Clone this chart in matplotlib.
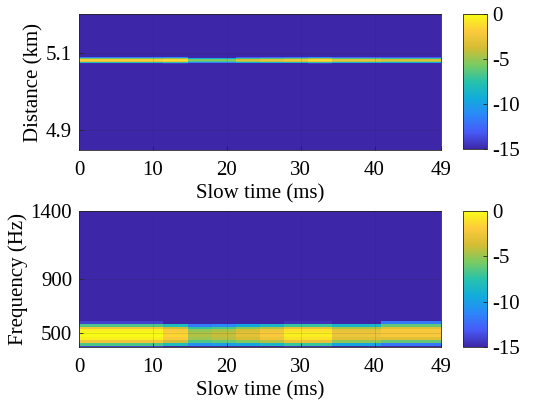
import numpy as np
import matplotlib
matplotlib.use("Agg")
import matplotlib.pyplot as plt
from matplotlib.colors import LinearSegmentedColormap

plt.rcParams['font.family'] = ['Liberation Serif', 'DejaVu Serif']
plt.rcParams['font.size'] = 15
plt.rcParams['axes.unicode_minus'] = False

# slow-time columns (ms), 16 pulse groups across 0..49
slow_time = np.linspace(0, 49, 16)

# range map: per-column peak level (dB) and target range (km)
range_peak_db = [-1.5, -1.5, -1.5, -1.5, -1.0, -5.0, -5.0, -3.0,
                 -2.5, -2.0, -1.0, -2.5, -2.5, -3.0, -3.0, -3.0]
range_center_km = [5.0805] * 16
range_halfwidth_km = 0.0085
distance_km = np.arange(4.84, 5.21, 0.0025)

# spectrum map: per-column peak level (dB) and centre frequency (Hz)
freq_peak_db = [0.0, 0.0, 0.0, 0.0, -1.5, -4.5, -4.0, -3.0,
                -2.0, -0.5, -0.5, -2.5, -2.5, -2.0, -2.0, -2.0]
freq_center_hz = [490, 490, 490, 490, 490, 488, 488, 490,
                  490, 490, 490, 492, 492, 500, 500, 500]
freq_halfwidth_hz = 92
freq_hz = np.arange(380, 1420, 20)

parula = LinearSegmentedColormap.from_list("parula", [
    (0.000, (0.2422, 0.1504, 0.6603)),
    (0.125, (0.2788, 0.3556, 0.9700)),
    (0.250, (0.1707, 0.5287, 0.9760)),
    (0.375, (0.0641, 0.6731, 0.8606)),
    (0.500, (0.1540, 0.7600, 0.6700)),
    (0.625, (0.4780, 0.7950, 0.3810)),
    (0.750, (0.8290, 0.7390, 0.2020)),
    (0.875, (0.9910, 0.7950, 0.2370)),
    (1.000, (0.9769, 0.9839, 0.0805)),
])


def db_map(axis_vals, centers, peaks, halfwidth, power):
    cols = []
    for c, p in zip(centers, peaks):
        col = p - 15 * np.abs((axis_vals - c) / halfwidth) ** power
        cols.append(np.clip(col, -15, 0))
    return np.array(cols).T


range_map = db_map(distance_km, range_center_km, range_peak_db, range_halfwidth_km, 2)
freq_map = db_map(freq_hz, freq_center_hz, freq_peak_db, freq_halfwidth_hz, 3)

fig = plt.figure(figsize=(5.47, 4.0), dpi=100)
ax1 = fig.add_axes([0.1444, 0.625, 0.6618, 0.34])
ax2 = fig.add_axes([0.1444, 0.1325, 0.6618, 0.34])
cax1 = fig.add_axes([0.8464, 0.6275, 0.0439, 0.3375])
cax2 = fig.add_axes([0.8464, 0.1325, 0.0439, 0.34])

edge = (0.15, 0.15, 0.15)

for ax, y, z, ylim, yticks, ylab, cax in [
        (ax1, distance_km, range_map, (4.848, 5.2), [4.9, 5.1], "Distance (km)", cax1),
        (ax2, freq_hz, freq_map, (400, 1400), [500, 900, 1400], "Frequency (Hz)", cax2)]:
    m = ax.pcolormesh(slow_time, y, z, cmap=parula, vmin=-15, vmax=0, shading='nearest')
    ax.set_xlim(0, 49)
    ax.set_ylim(*ylim)
    ax.set_xticks([0, 10, 20, 30, 40, 49])
    ax.set_yticks(yticks)
    ax.set_xlabel("Slow time (ms)", labelpad=3)
    ax.set_ylabel(ylab, labelpad=2)
    ax.tick_params(direction='in', length=3, width=0.6, color=edge, pad=5)
    ax.tick_params(axis='x', pad=8)
    ax.set_axisbelow(False)
    ax.grid(True, color=edge, alpha=0.15, linewidth=0.6)
    for s in ax.spines.values():
        s.set_color(edge)
        s.set_linewidth(0.6)
    cb = fig.colorbar(m, cax=cax, ticks=[0, -5, -10, -15])
    cb.ax.tick_params(direction='in', length=3, width=0.6, color=edge, pad=4)
    cb.outline.set_edgecolor(edge)
    cb.outline.set_linewidth(0.6)

ax1.set_yticklabels(["4.9", "5.1"])

fig.savefig("out.png", dpi=100)
